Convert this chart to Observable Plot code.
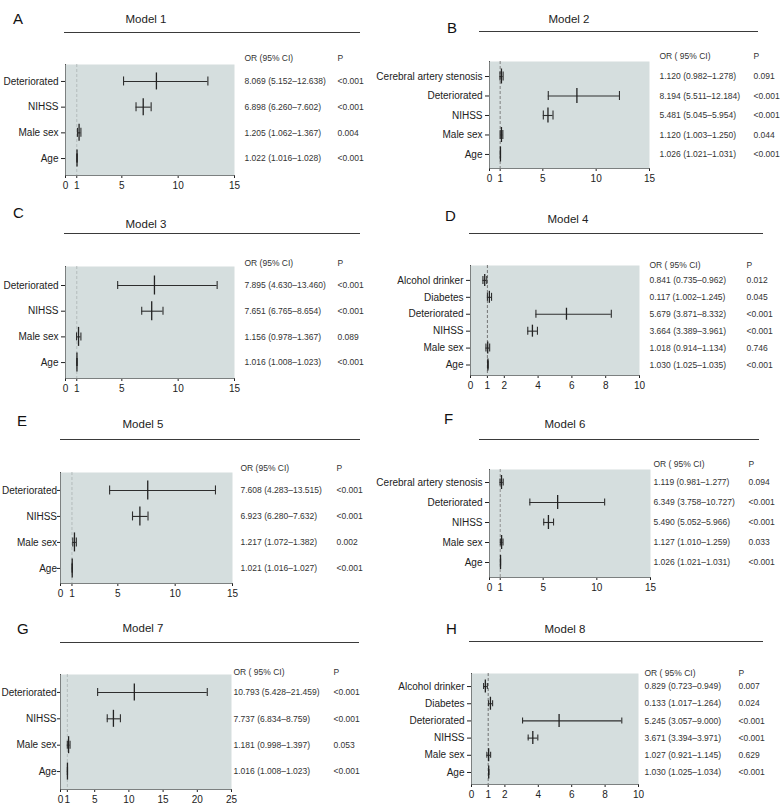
<!DOCTYPE html>
<html><head><meta charset="utf-8">
<script src="https://cdn.jsdelivr.net/npm/d3@7"></script>
<script src="https://cdn.jsdelivr.net/npm/@observablehq/plot@0.6"></script>
<style>
html,body{margin:0;padding:0;background:#fff;}
#root{position:relative;width:782px;height:809px;overflow:hidden;font-family:"Liberation Sans",Arial,Helvetica,sans-serif;color:#222;}
.layer{position:absolute;left:0;top:0;}
.letter{position:absolute;font-size:15px;line-height:15px;transform:translateY(-50%);color:#111;}
.title{position:absolute;font-size:11.5px;line-height:12px;transform:translate(-50%,-50%);white-space:nowrap;color:#222;}
.uline{position:absolute;height:0;border-top:1.3px solid #3a3a3a;}
</style></head><body><div id="root"></div>
<script>
// ---------- DATA ----------
const labels4 = ["Deteriorated", "NIHSS", "Male sex", "Age"];
const labels5 = ["Cerebral artery stenosis", "Deteriorated", "NIHSS", "Male sex", "Age"];
const labels6 = ["Alcohol drinker", "Diabetes", "Deteriorated", "NIHSS", "Male sex", "Age"];

const ticks15 = [0, 1, 5, 10, 15];
const ticks10 = [0, 1, 2, 4, 6, 8, 10];
const ticks25 = [0, 1, 5, 10, 15, 20, 25];

// Model 1
const m1OR = [8.069, 6.898, 1.205, 1.022];
const m1Lo = [5.152, 6.260, 1.062, 1.016];
const m1Hi = [12.638, 7.602, 1.367, 1.028];
const m1Text = ["8.069 (5.152–12.638)", "6.898 (6.260–7.602)", "1.205 (1.062–1.367)", "1.022 (1.016–1.028)"];
const m1P = ["<0.001", "<0.001", "0.004", "<0.001"];
// Model 2
const m2OR = [1.120, 8.194, 5.481, 1.120, 1.026];
const m2Lo = [0.982, 5.511, 5.045, 1.003, 1.021];
const m2Hi = [1.278, 12.184, 5.954, 1.250, 1.031];
const m2Text = ["1.120 (0.982–1.278)", "8.194 (5.511–12.184)", "5.481 (5.045–5.954)", "1.120 (1.003–1.250)", "1.026 (1.021–1.031)"];
const m2P = ["0.091", "<0.001", "<0.001", "0.044", "<0.001"];
// Model 3
const m3OR = [7.895, 7.651, 1.156, 1.016];
const m3Lo = [4.630, 6.765, 0.978, 1.008];
const m3Hi = [13.460, 8.654, 1.367, 1.023];
const m3Text = ["7.895 (4.630–13.460)", "7.651 (6.765–8.654)", "1.156 (0.978–1.367)", "1.016 (1.008–1.023)"];
const m3P = ["<0.001", "<0.001", "0.089", "<0.001"];
// Model 4 (Diabetes marker drawn where the picture shows it)
const m4OR = [0.841, 1.117, 5.679, 3.664, 1.018, 1.030];
const m4Lo = [0.735, 1.002, 3.871, 3.389, 0.914, 1.025];
const m4Hi = [0.962, 1.245, 8.332, 3.961, 1.134, 1.035];
const m4Text = ["0.841 (0.735–0.962)", "0.117 (1.002–1.245)", "5.679 (3.871–8.332)", "3.664 (3.389–3.961)", "1.018 (0.914–1.134)", "1.030 (1.025–1.035)"];
const m4P = ["0.012", "0.045", "<0.001", "<0.001", "0.746", "<0.001"];
// Model 5
const m5OR = [7.608, 6.923, 1.217, 1.021];
const m5Lo = [4.283, 6.280, 1.072, 1.016];
const m5Hi = [13.515, 7.632, 1.382, 1.027];
const m5Text = ["7.608 (4.283–13.515)", "6.923 (6.280–7.632)", "1.217 (1.072–1.382)", "1.021 (1.016–1.027)"];
const m5P = ["<0.001", "<0.001", "0.002", "<0.001"];
// Model 6
const m6OR = [1.119, 6.349, 5.490, 1.127, 1.026];
const m6Lo = [0.981, 3.758, 5.052, 1.010, 1.021];
const m6Hi = [1.277, 10.727, 5.966, 1.259, 1.031];
const m6Text = ["1.119 (0.981–1.277)", "6.349 (3.758–10.727)", "5.490 (5.052–5.966)", "1.127 (1.010–1.259)", "1.026 (1.021–1.031)"];
const m6P = ["0.094", "<0.001", "<0.001", "0.033", "<0.001"];
// Model 7
const m7OR = [10.793, 7.737, 1.181, 1.016];
const m7Lo = [5.428, 6.834, 0.998, 1.008];
const m7Hi = [21.459, 8.759, 1.397, 1.023];
const m7Text = ["10.793 (5.428–21.459)", "7.737 (6.834–8.759)", "1.181 (0.998–1.397)", "1.016 (1.008–1.023)"];
const m7P = ["<0.001", "<0.001", "0.053", "<0.001"];
// Model 8
const m8OR = [0.829, 1.133, 5.245, 3.671, 1.027, 1.030];
const m8Lo = [0.723, 1.017, 3.057, 3.394, 0.921, 1.025];
const m8Hi = [0.949, 1.264, 9.000, 3.971, 1.145, 1.034];
const m8Text = ["0.829 (0.723–0.949)", "0.133 (1.017–1.264)", "5.245 (3.057–9.000)", "3.671 (3.394–3.971)", "1.027 (0.921–1.145)", "1.030 (1.025–1.034)"];
const m8P = ["0.007", "0.024", "<0.001", "<0.001", "0.629", "<0.001"];

const panelLetters = ["A", "B", "C", "D", "E", "F", "G", "H"];
const panelTitles = ["Model 1", "Model 2", "Model 3", "Model 4", "Model 5", "Model 6", "Model 7", "Model 8"];
const headers = ["OR (95% CI)", "OR ( 95% CI)", "OR (95% CI)", "OR ( 95% CI)", "OR (95% CI)", "OR ( 95% CI)", "OR ( 95% CI)", "OR ( 95% CI)"];

const models = [
  {labels: labels4, or: m1OR, lo: m1Lo, hi: m1Hi, text: m1Text, p: m1P, xmax: 15, ticks: ticks15},
  {labels: labels5, or: m2OR, lo: m2Lo, hi: m2Hi, text: m2Text, p: m2P, xmax: 15, ticks: ticks15},
  {labels: labels4, or: m3OR, lo: m3Lo, hi: m3Hi, text: m3Text, p: m3P, xmax: 15, ticks: ticks15},
  {labels: labels6, or: m4OR, lo: m4Lo, hi: m4Hi, text: m4Text, p: m4P, xmax: 10, ticks: ticks10},
  {labels: labels4, or: m5OR, lo: m5Lo, hi: m5Hi, text: m5Text, p: m5P, xmax: 15, ticks: ticks15},
  {labels: labels5, or: m6OR, lo: m6Lo, hi: m6Hi, text: m6Text, p: m6P, xmax: 15, ticks: ticks15},
  {labels: labels4, or: m7OR, lo: m7Lo, hi: m7Hi, text: m7Text, p: m7P, xmax: 25, ticks: ticks25},
  {labels: labels6, or: m8OR, lo: m8Lo, hi: m8Hi, text: m8Text, p: m8P, xmax: 10, ticks: ticks10}
];

// ---------- LAYOUT (pixels) ----------
const layout = [
  {lx: 13, ly: 18, tx: 146, ty: 19, ux0: 64, ux1: 360, uy: 32, fx0: 65, fx1: 234, fy0: 64, fy1: 175, padT: 0.66, padB: 0.66, orH: 8.5, capH: 4.5, ref: "#b0b8b8", hy: 54, orX: 244, pX: 337, yts: 4, ytp: 3},
  {lx: 447, ly: 27, tx: 569, ty: 19, ux0: 479, ux1: 758, uy: 31, fx0: 489, fx1: 649, fy0: 61, fy1: 168, padT: 0.77, padB: 0.72, orH: 7.5, capH: 4.5, ref: "#777", hy: 52, orX: 659, pX: 753, yts: 4, ytp: 3},
  {lx: 13, ly: 212, tx: 146, ty: 224, ux0: 64, ux1: 360, uy: 233, fx0: 65, fx1: 234, fy0: 266, fy1: 378, padT: 0.74, padB: 0.62, orH: 9.5, capH: 4, ref: "#b0b8b8", hy: 259, orX: 244, pX: 337, yts: 4, ytp: 3},
  {lx: 445, ly: 215, tx: 568, ty: 219, ux0: 469, ux1: 763, uy: 233, fx0: 470, fx1: 639, fy0: 265, fy1: 375, padT: 0.88, padB: 0.62, orH: 6, capH: 4, ref: "#666", hy: 261, orX: 649, pX: 746, yts: 4, ytp: 3},
  {lx: 17, ly: 420, tx: 143, ty: 424, ux0: 60, ux1: 360, uy: 439, fx0: 60, fx1: 232, fy0: 472, fy1: 583, padT: 0.69, padB: 0.58, orH: 9.5, capH: 4.5, ref: "#b0b8b8", hy: 464, orX: 240, pX: 336, yts: 3, ytp: 0.5},
  {lx: 444, ly: 418, tx: 565, ty: 424, ux0: 479, ux1: 759, uy: 439, fx0: 489, fx1: 650, fy0: 469, fy1: 577, padT: 0.65, padB: 0.75, orH: 7, capH: 3.5, ref: "#888", hy: 460, orX: 653, pX: 748, yts: 4, ytp: 3},
  {lx: 17, ly: 628, tx: 143, ty: 628, ux0: 60, ux1: 359, uy: 642, fx0: 60, fx1: 231, fy0: 674, fy1: 789, padT: 0.68, padB: 0.68, orH: 8.5, capH: 4, ref: "#b0b8b8", hy: 668, orX: 233, pX: 333, yts: 3, ytp: 1},
  {lx: 446, ly: 628, tx: 565, ty: 629, ux0: 469, ux1: 763, uy: 641, fx0: 471, fx1: 638, fy0: 673, fy1: 784, padT: 0.76, padB: 0.70, orH: 6.5, capH: 3, ref: "#666", hy: 669, orX: 644, pX: 738, yts: 4, ytp: 3}
];

const W = 782, H = 809;
const root = document.getElementById("root");
const FONT = "'Liberation Sans', Arial, Helvetica, sans-serif";
const INK = "#2e2e2e";

models.forEach((d, k) => {
  const L = layout[k];
  const n = d.labels.length;
  const rows = d.labels.map((label, i) => ({i, label, or: d.or[i], lo: d.lo[i], hi: d.hi[i], text: d.text[i], p: d.p[i]}));

  const chart = Plot.plot({
    width: W, height: H,
    marginLeft: L.fx0, marginRight: W - L.fx1, marginTop: L.fy0, marginBottom: H - L.fy1,
    style: {background: "transparent", overflow: "visible", fontFamily: FONT, fontSize: "10px", color: "#222"},
    x: {domain: [0, d.xmax], ticks: d.ticks, tickSize: 3, tickPadding: 3, line: true, label: null},
    y: {domain: [-L.padT, n - 1 + L.padB], reverse: true, ticks: d3.range(n), tickFormat: i => d.labels[i], tickSize: L.yts, tickPadding: L.ytp, line: true, label: null},
    marks: [
      Plot.frame({fill: "#d5dede", stroke: "none"}),
      Plot.ruleX([1], {stroke: L.ref, strokeDasharray: "3,2", strokeWidth: 0.9}),
      Plot.ruleY(rows, {y: "i", x1: "lo", x2: "hi", stroke: INK, strokeWidth: 1.1}),
      Plot.ruleX(rows, {x: "lo", y1: "i", y2: "i", insetTop: -L.capH, insetBottom: -L.capH, stroke: INK, strokeWidth: 1.1}),
      Plot.ruleX(rows, {x: "hi", y1: "i", y2: "i", insetTop: -L.capH, insetBottom: -L.capH, stroke: INK, strokeWidth: 1.1}),
      Plot.ruleX(rows, {x: "or", y1: "i", y2: "i", insetTop: -L.orH, insetBottom: -L.orH, stroke: "#222", strokeWidth: 1.3}),
      Plot.text(rows, {y: "i", text: "text", frameAnchor: "right", dx: L.orX - L.fx1, textAnchor: "start", fontSize: 8.5, fill: "#333"}),
      Plot.text(rows, {y: "i", text: "p", frameAnchor: "right", dx: L.pX - L.fx1, textAnchor: "start", fontSize: 8.5, fill: "#333"}),
      Plot.text([headers[k]], {text: t => t, frameAnchor: "top-right", dx: L.orX - L.fx1, dy: L.hy - L.fy0, textAnchor: "start", fontSize: 8.5, fill: "#333"}),
      Plot.text(["P"], {text: t => t, frameAnchor: "top-right", dx: L.pX - L.fx1, dy: L.hy - L.fy0, textAnchor: "start", fontSize: 8.5, fill: "#333"})
    ]
  });
  chart.classList.add("layer");
  chart.style.position = "absolute";
  chart.style.left = "0px";
  chart.style.top = "0px";
  chart.style.maxWidth = "none";
  root.appendChild(chart);

  const letter = document.createElement("div");
  letter.className = "letter";
  letter.textContent = panelLetters[k];
  letter.style.left = L.lx + "px";
  letter.style.top = L.ly + "px";
  root.appendChild(letter);

  const title = document.createElement("div");
  title.className = "title";
  title.textContent = panelTitles[k];
  title.style.left = L.tx + "px";
  title.style.top = L.ty + "px";
  root.appendChild(title);

  const ul = document.createElement("div");
  ul.className = "uline";
  ul.style.left = L.ux0 + "px";
  ul.style.width = (L.ux1 - L.ux0) + "px";
  ul.style.top = L.uy + "px";
  root.appendChild(ul);
});
</script></body></html>
